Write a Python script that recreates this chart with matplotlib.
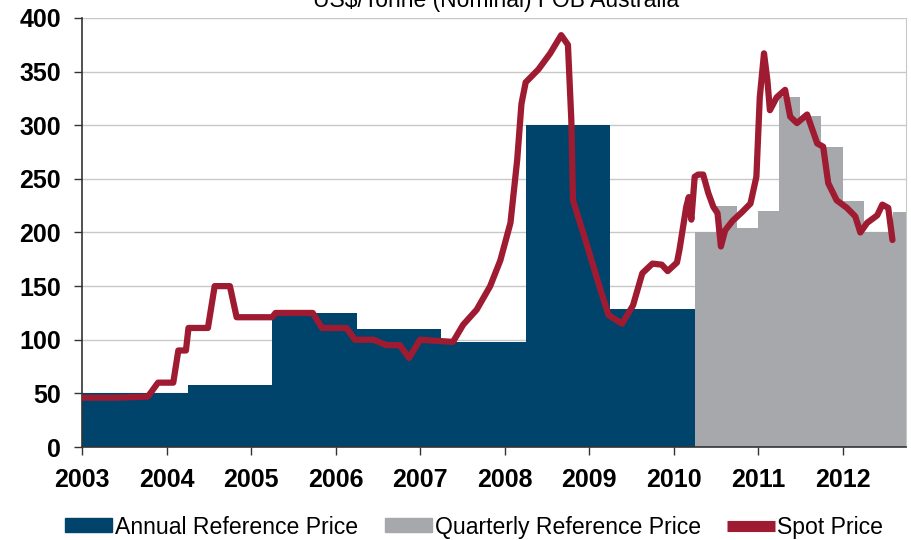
import matplotlib
matplotlib.use("Agg")
import matplotlib.pyplot as plt
from matplotlib.patches import Patch
from matplotlib.lines import Line2D

# annual reference price (step, start of each period)
annual_edges = [2003.0, 2004.25, 2005.25, 2006.25, 2007.25, 2008.25, 2009.25, 2010.25]
annual_vals = [50, 58, 125, 110, 98, 300, 129]

# quarterly reference price
quarter_edges = [2010.25, 2010.5, 2010.75, 2011.0, 2011.25, 2011.5, 2011.75,
                 2012.0, 2012.25, 2012.6, 2012.75]
quarter_vals = [200, 225, 204, 220, 326, 309, 280, 229, 200, 219]

# spot price
spot_t = [2003.0, 2003.4, 2003.78, 2003.9, 2004.08, 2004.14, 2004.23, 2004.26, 2004.49,
          2004.57, 2004.75, 2004.83, 2005.25, 2005.29, 2005.73, 2005.84, 2006.13, 2006.23,
          2006.45, 2006.6, 2006.76, 2006.87, 2007.0, 2007.39, 2007.51, 2007.67, 2007.83,
          2007.95, 2008.07, 2008.15, 2008.2, 2008.25, 2008.4, 2008.54, 2008.67, 2008.75,
          2008.79, 2008.81, 2008.98, 2009.11, 2009.23, 2009.39, 2009.52, 2009.63, 2009.75,
          2009.86, 2009.93, 2010.04, 2010.07, 2010.15, 2010.18, 2010.21, 2010.25, 2010.29,
          2010.35, 2010.41, 2010.47, 2010.52, 2010.56, 2010.61, 2010.7, 2010.81, 2010.91,
          2010.98, 2011.02, 2011.07, 2011.11, 2011.14, 2011.22, 2011.32, 2011.38, 2011.46,
          2011.58, 2011.7, 2011.77, 2011.83, 2011.93, 2012.05, 2012.15, 2012.21, 2012.29,
          2012.41, 2012.47, 2012.54, 2012.59]
spot_v = [46, 46, 47, 60, 60, 90, 90, 111, 111,
          150, 150, 121, 121, 125, 125, 111, 111, 100,
          100, 95, 95, 83, 100, 98, 114, 128, 150,
          174, 209, 268, 320, 340, 352, 367, 384, 375,
          305, 230, 187, 153, 123, 115, 132, 162, 171,
          170, 164, 172, 184, 224, 233, 212, 252, 254,
          254, 237, 224, 218, 187, 202, 211, 219, 227,
          252, 326, 367, 342, 314, 326, 333, 308, 302,
          310, 283, 280, 246, 230, 223, 215, 200, 209,
          216, 226, 223, 193]

years = list(range(2003, 2013))

blue = "#00446b"
grey = "#a7a8ab"
red = "#9e1b32"
plt.rcParams["font.family"] = ["Liberation Sans", "DejaVu Sans"]

fig = plt.figure(figsize=(9.12, 5.4), dpi=100)
ax = fig.add_axes([0.0899, 0.1722, 0.9035, 0.7945])

ax.fill_between(annual_edges, annual_vals + [annual_vals[-1]], step="post",
                color=blue, lw=0, zorder=2)
ax.fill_between(quarter_edges, quarter_vals + [quarter_vals[-1]], step="post",
                color=grey, lw=0, zorder=2)
ax.plot(spot_t, spot_v, color=red, lw=4.5, solid_joinstyle="round",
        solid_capstyle="round", zorder=3)

ax.set_xlim(2003, 2012.75)
ax.set_ylim(0, 400)
ax.set_xticks(years)
ax.set_yticks(range(0, 401, 50))
ax.tick_params(labelsize=18, length=6, width=1, color="#333333")
ax.tick_params(axis="x", pad=9)
ax.tick_params(axis="y", pad=9)
for lab in ax.get_xticklabels() + ax.get_yticklabels():
    lab.set_fontweight("bold")
ax.grid(axis="y", color="#c8c8c8", lw=1, zorder=0)
ax.set_axisbelow(True)
ax.spines["top"].set_visible(False)
ax.spines["right"].set_color("#c8c8c8")
ax.spines["left"].set_color("#333333")
ax.spines["bottom"].set_color("#333333")
ax.spines["left"].set_linewidth(1.2)
ax.spines["bottom"].set_linewidth(1.2)

fig.text(0.544, 1.0, "US$/Tonne (Nominal) FOB Australia", ha="center", va="center",
         fontsize=16.5)

handles = [Patch(color=blue), Patch(color=grey),
           Line2D([0], [0], color=red, lw=8, solid_capstyle="butt")]
fig.legend(handles, ["Annual Reference Price", "Quarterly Reference Price", "Spot Price"],
           loc="center", bbox_to_anchor=(0.52, 0.024), ncol=3, frameon=False,
           fontsize=16.6, handlelength=2.05, handleheight=0.55, handletextpad=0.12,
           columnspacing=1.15)

fig.savefig("out.png", dpi=100)
